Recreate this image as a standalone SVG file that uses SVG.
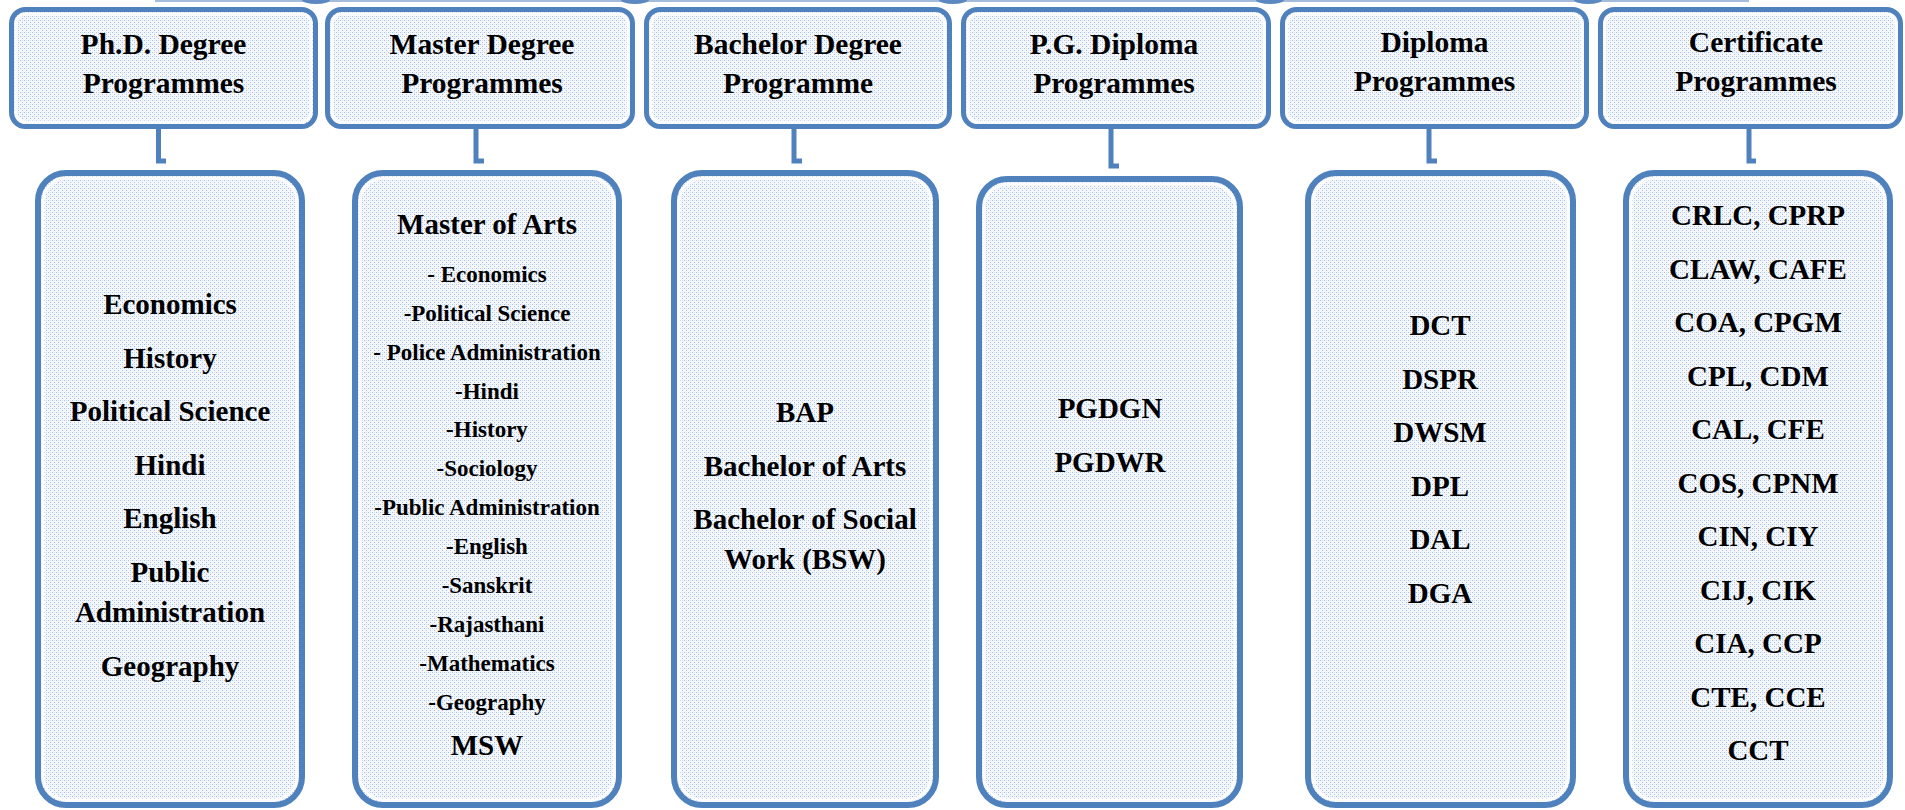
<svg xmlns="http://www.w3.org/2000/svg" width="1905" height="810" viewBox="0 0 1905 810">
<defs>
<pattern id="dots" patternUnits="userSpaceOnUse" x="0" y="0" width="4" height="4">
<rect width="4" height="4" fill="#f4f7fc"/>
<rect x="0" y="0" width="1" height="1" fill="#a9c0e2"/>
<rect x="2" y="2" width="1" height="1" fill="#a9c0e2"/>
<rect x="2" y="0" width="1" height="1" fill="#d3e0f2"/>
</pattern>
<style>
.hdr{fill:url(#dots);stroke:#4F81BD;stroke-width:5}
.body{fill:url(#dots);stroke:#4F81BD;stroke-width:6}
.glow{fill:none;stroke:#ffffff;stroke-width:3;stroke-opacity:0.85}
.t{font-family:"Liberation Serif","Times New Roman",serif;font-weight:700;fill:#000;text-anchor:middle}
.h{font-size:29.5px}
.b{font-size:29px}
.s{font-size:23px}
.conn{fill:none;stroke:#4F81BD;stroke-width:5}
</style>
</defs>
<rect width="1905" height="810" fill="#ffffff"/>

<g id="top-edge">
<line x1="155" y1="1" x2="1749" y2="1" stroke="#a4bcdc" stroke-width="2"/>
<ellipse cx="316" cy="0" rx="14" ry="4" fill="#5b88c0"/>
<ellipse cx="635" cy="0" rx="14" ry="4" fill="#5b88c0"/>
<ellipse cx="953" cy="0" rx="14" ry="4" fill="#5b88c0"/>
<ellipse cx="1270" cy="0" rx="14" ry="4" fill="#5b88c0"/>
<ellipse cx="1588" cy="0" rx="14" ry="4" fill="#5b88c0"/>
</g>

<g id="connectors">
<path class="conn" d="M158.5,128 V161 H166"/>
<path class="conn" d="M476,128 V161 H484"/>
<path class="conn" d="M794,128 V161 H802"/>
<path class="conn" d="M1111,128 V166 H1119"/>
<path class="conn" d="M1429,128 V161 H1437"/>
<path class="conn" d="M1749,128 V161 H1756"/>
</g>

<g id="hdr-phd">
<rect class="hdr" x="11.5" y="9.5" width="304" height="117" rx="14"/>
<rect class="glow" x="16" y="14" width="295" height="108" rx="10"/>
<text class="t h" x="163.5" y="54">Ph.D. Degree</text>
<text class="t h" x="163.5" y="93">Programmes</text>
</g>
<g id="hdr-master">
<rect class="hdr" x="327.5" y="9.5" width="305" height="117" rx="14"/>
<rect class="glow" x="332" y="14" width="296" height="108" rx="10"/>
<text class="t h" x="482" y="54">Master Degree</text>
<text class="t h" x="482" y="93">Programmes</text>
</g>
<g id="hdr-bachelor">
<rect class="hdr" x="646.5" y="9.5" width="303" height="117" rx="14"/>
<rect class="glow" x="651" y="14" width="294" height="108" rx="10"/>
<text class="t h" x="798" y="54">Bachelor Degree</text>
<text class="t h" x="798" y="93">Programme</text>
</g>
<g id="hdr-pgd">
<rect class="hdr" x="963.5" y="9.5" width="305" height="117" rx="14"/>
<rect class="glow" x="968" y="14" width="296" height="108" rx="10"/>
<text class="t h" x="1114" y="54">P.G. Diploma</text>
<text class="t h" x="1114" y="93">Programmes</text>
</g>
<g id="hdr-diploma">
<rect class="hdr" x="1282.5" y="9.5" width="304" height="117" rx="14"/>
<rect class="glow" x="1287" y="14" width="295" height="108" rx="10"/>
<text class="t h" x="1434.5" y="52">Diploma</text>
<text class="t h" x="1434.5" y="91">Programmes</text>
</g>
<g id="hdr-cert">
<rect class="hdr" x="1600.5" y="9.5" width="300" height="117" rx="14"/>
<rect class="glow" x="1605" y="14" width="291" height="108" rx="10"/>
<text class="t h" x="1756" y="52">Certificate</text>
<text class="t h" x="1756" y="91">Programmes</text>
</g>

<g id="body-phd">
<rect class="body" x="38" y="173" width="264" height="632" rx="28"/>
<rect class="glow" x="43" y="178" width="254" height="622" rx="24"/>
<text class="t b" x="170" y="314">Economics</text>
<text class="t b" x="170" y="367.5">History</text>
<text class="t b" x="170" y="421">Political Science</text>
<text class="t b" x="170" y="474.5">Hindi</text>
<text class="t b" x="170" y="528">English</text>
<text class="t b" x="170" y="581.5">Public</text>
<text class="t b" x="170" y="622">Administration</text>
<text class="t b" x="170" y="675.5">Geography</text>
</g>

<g id="body-master">
<rect class="body" x="355" y="173" width="264" height="632" rx="28"/>
<rect class="glow" x="360" y="178" width="254" height="622" rx="24"/>
<text class="t b" x="487" y="234">Master of Arts</text>
<text class="t s" x="487" y="282">- Economics</text>
<text class="t s" x="487" y="321">-Political Science</text>
<text class="t s" x="487" y="360">- Police Administration</text>
<text class="t s" x="487" y="398.5">-Hindi</text>
<text class="t s" x="487" y="437">-History</text>
<text class="t s" x="487" y="476">-Sociology</text>
<text class="t s" x="487" y="515">-Public Administration</text>
<text class="t s" x="487" y="554">-English</text>
<text class="t s" x="487" y="593">-Sanskrit</text>
<text class="t s" x="487" y="631.5">-Rajasthani</text>
<text class="t s" x="487" y="670.5">-Mathematics</text>
<text class="t s" x="487" y="709.5">-Geography</text>
<text class="t b" x="487" y="755">MSW</text>
</g>

<g id="body-bachelor">
<rect class="body" x="674" y="173" width="262" height="632" rx="28"/>
<rect class="glow" x="679" y="178" width="252" height="622" rx="24"/>
<text class="t b" x="805" y="422">BAP</text>
<text class="t b" x="805" y="476">Bachelor of Arts</text>
<text class="t b" x="805" y="529">Bachelor of Social</text>
<text class="t b" x="805" y="569">Work (BSW)</text>
</g>

<g id="body-pgd">
<rect class="body" x="979" y="179" width="261" height="626" rx="28"/>
<rect class="glow" x="984" y="184" width="251" height="616" rx="24"/>
<text class="t b" x="1110" y="418">PGDGN</text>
<text class="t b" x="1110" y="472">PGDWR</text>
</g>

<g id="body-diploma">
<rect class="body" x="1308" y="173" width="265" height="632" rx="28"/>
<rect class="glow" x="1313" y="178" width="255" height="622" rx="24"/>
<text class="t b" x="1440" y="335">DCT</text>
<text class="t b" x="1440" y="388.5">DSPR</text>
<text class="t b" x="1440" y="442">DWSM</text>
<text class="t b" x="1440" y="495.5">DPL</text>
<text class="t b" x="1440" y="549">DAL</text>
<text class="t b" x="1440" y="602.5">DGA</text>
</g>

<g id="body-cert">
<rect class="body" x="1626" y="173" width="264" height="632" rx="28"/>
<rect class="glow" x="1631" y="178" width="254" height="622" rx="24"/>
<text class="t b" x="1758" y="225">CRLC, CPRP</text>
<text class="t b" x="1758" y="278.5">CLAW, CAFE</text>
<text class="t b" x="1758" y="332">COA, CPGM</text>
<text class="t b" x="1758" y="385.5">CPL, CDM</text>
<text class="t b" x="1758" y="439">CAL, CFE</text>
<text class="t b" x="1758" y="492.5">COS, CPNM</text>
<text class="t b" x="1758" y="546">CIN, CIY</text>
<text class="t b" x="1758" y="599.5">CIJ, CIK</text>
<text class="t b" x="1758" y="653">CIA, CCP</text>
<text class="t b" x="1758" y="706.5">CTE, CCE</text>
<text class="t b" x="1758" y="760">CCT</text>
</g>
</svg>
